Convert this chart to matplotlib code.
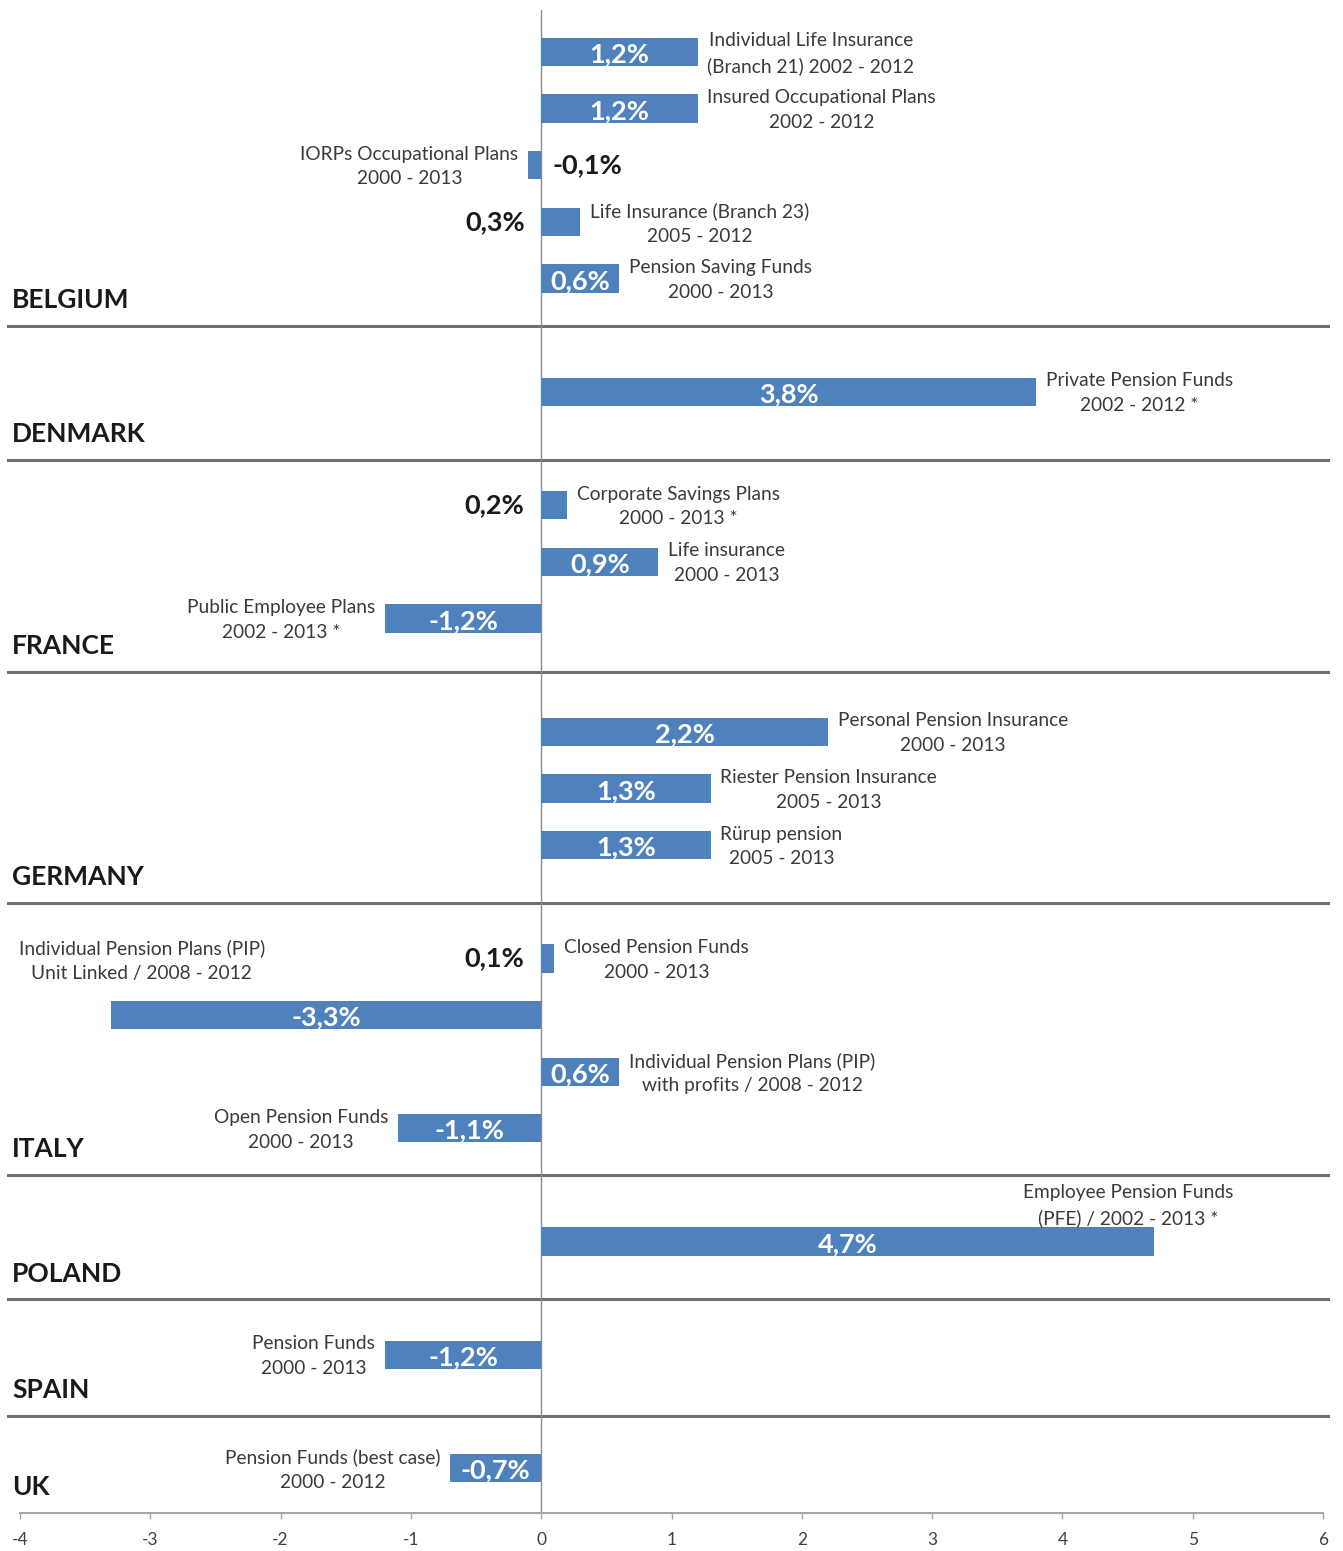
import matplotlib
matplotlib.use("Agg")
import matplotlib.pyplot as plt
from matplotlib.transforms import blended_transform_factory
from matplotlib.lines import Line2D

plt.rcParams["font.family"] = ["Lato", "DejaVu Sans"]

# ---- data -------------------------------------------------------------
countries = ["BELGIUM", "DENMARK", "FRANCE", "GERMANY", "ITALY",
             "POLAND", "SPAIN", "UK"]

belgium_products = ["Individual Life Insurance\n(Branch 21) 2002 - 2012",
                    "Insured Occupational Plans\n2002 - 2012",
                    "IORPs Occupational Plans\n2000 - 2013",
                    "Life Insurance (Branch 23)\n2005 - 2012",
                    "Pension Saving Funds\n2000 - 2013"]
belgium_values = [1.2, 1.2, -0.1, 0.3, 0.6]

denmark_products = ["Private Pension Funds\n2002 - 2012 *"]
denmark_values = [3.8]

france_products = ["Corporate Savings Plans\n2000 - 2013 *",
                   "Life insurance\n2000 - 2013",
                   "Public Employee Plans\n2002 - 2013 *"]
france_values = [0.2, 0.9, -1.2]

germany_products = ["Personal Pension Insurance\n2000 - 2013",
                    "Riester Pension Insurance\n2005 - 2013",
                    "Rürup pension\n2005 - 2013"]
germany_values = [2.2, 1.3, 1.3]

italy_products = ["Closed Pension Funds\n2000 - 2013",
                  "Individual Pension Plans (PIP)\nUnit Linked / 2008 - 2012",
                  "Individual Pension Plans (PIP)\nwith profits / 2008 - 2012",
                  "Open Pension Funds\n2000 - 2013"]
italy_values = [0.1, -3.3, 0.6, -1.1]

poland_products = ["Employee Pension Funds\n(PFE) / 2002 - 2013 *"]
poland_values = [4.7]

spain_products = ["Pension Funds\n2000 - 2013"]
spain_values = [-1.2]

uk_products = ["Pension Funds (best case)\n2000 - 2012"]
uk_values = [-0.7]

x_ticks = [-4, -3, -2, -1, 0, 1, 2, 3, 4, 5, 6]

groups = [(belgium_products, belgium_values),
          (denmark_products, denmark_values),
          (france_products, france_values),
          (germany_products, germany_values),
          (italy_products, italy_values),
          (poland_products, poland_values),
          (spain_products, spain_values),
          (uk_products, uk_values)]

# ---- layout / style -----------------------------------------------------
BAR_COLOR = "#4F81BD"
TEXT_COLOR = "#3a3a3a"
SEP_COLOR = "#6f6f6f"
DESC_SIZE = 13.8
VALUE_SIZE = 19.5
LINE_SP = 1.55
# distance (in rows) from a group's last bar down to its separator line
sep_gap = [0.84, 1.20, 0.95, 1.02, 0.83, 1.02, 1.08]
# description labels that sit above the bar instead of beside it:
# product -> (offset x, offset y) in points from the bar end
label_above = {
    "Individual Pension Plans (PIP)\nUnit Linked / 2008 - 2012": (22, 39),
    "Employee Pension Funds\n(PFE) / 2002 - 2013 *": (-18, 26),
}

W, H = 1343, 1551
fig = plt.figure(figsize=(W / 100, H / 100), dpi=100)
ax = fig.add_axes([20 / W, 38 / H, 1303 / W, 1503 / H])

# row positions: one row per bar plus an empty row between countries
positions, values, products, group_last = [], [], [], []
row = 0
for names, vals in groups:
    for n, v in zip(names, vals):
        positions.append(row)
        values.append(v)
        products.append(n)
        row += 1
    group_last.append(row - 1)
    row += 1

ax.barh(positions, values, height=0.5, color=BAR_COLOR, zorder=3)

ax.set_xlim(-4, 6)
ax.set_ylim(25.79, -0.74)

desc_kw = dict(textcoords="offset points", va="center",
               multialignment="center", fontsize=DESC_SIZE,
               color=TEXT_COLOR, linespacing=LINE_SP)

for y, v, name in zip(positions, values, products):
    label = f"{v:.1f}".replace(".", ",") + "%"
    if abs(v) < 0.5:
        if v < 0:
            ax.annotate(label, xy=(0, y), xytext=(8, 0),
                        textcoords="offset points", ha="left", va="center",
                        fontsize=VALUE_SIZE, fontweight="bold",
                        color="#1a1a1a")
        else:
            ax.annotate(label, xy=(0, y), xytext=(-12, 0),
                        textcoords="offset points", ha="right", va="center",
                        fontsize=VALUE_SIZE, fontweight="bold",
                        color="#1a1a1a")
    else:
        ax.text(v / 2, y + 0.04, label, ha="center", va="center",
                fontsize=VALUE_SIZE, fontweight="bold", color="white",
                zorder=4)

    if name in label_above:
        dx, dy = label_above[name]
        ax.annotate(name, xy=(v, y), xytext=(dx, dy), ha="center",
                    zorder=5, **desc_kw)
    elif v >= 0:
        ax.annotate(name, xy=(v, y), xytext=(7, -1), ha="left", **desc_kw)
    else:
        ax.annotate(name, xy=(v, y), xytext=(-7, -1), ha="right", **desc_kw)

# zero line
ax.axvline(0, color="#8c8c8c", lw=1.0, zorder=2)

# country separators and names
blend = blended_transform_factory(fig.transFigure, ax.transData)
sep_rows = [group_last[i] + sep_gap[i] for i in range(len(sep_gap))]
for sy in sep_rows:
    ax.add_line(Line2D([8 / W, 1328 / W], [sy, sy], transform=blend,
                       color=SEP_COLOR, lw=2.2, clip_on=False, zorder=1))
label_rows = sep_rows + [25.79]
for name, ly in zip(countries, label_rows):
    ax.annotate(name, xy=(12 / W, ly), xycoords=blend, xytext=(0, 10),
                textcoords="offset points", ha="left", va="bottom",
                fontsize=19, fontweight="bold", color="#1a1a1a")

# axes styling
for side in ["top", "right", "left"]:
    ax.spines[side].set_visible(False)
ax.spines["bottom"].set_color("#a6a6a6")
ax.spines["bottom"].set_linewidth(1.5)
ax.set_yticks([])
ax.set_xticks(x_ticks)
ax.set_xticklabels([str(t) for t in x_ticks])
ax.tick_params(axis="x", direction="out", length=4, width=1,
               color="#a6a6a6", pad=10, labelsize=12.5, labelcolor="#404040")

fig.savefig("out.png", dpi=100, facecolor="white")
